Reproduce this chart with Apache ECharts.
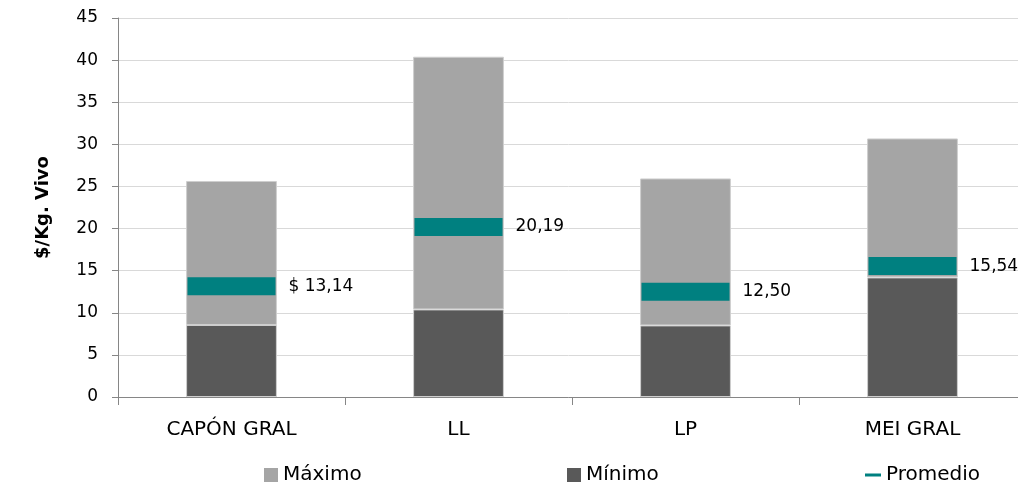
<!DOCTYPE html>
<html>
<head>
<meta charset="utf-8">
<script src="https://cdn.jsdelivr.net/npm/echarts@6/dist/echarts.min.js"></script>
<style>html,body{margin:0;padding:0;background:#fff;}#c{width:1018px;height:486px;}</style>
</head>
<body>
<div id="c"></div>
<script>
const categories = ['CAPÓN GRAL', 'LL', 'LP', 'MEI GRAL'];
const maximo = [25.65, 40.4, 25.95, 30.7];
const minimo = [8.55, 10.4, 8.5, 14.2];
const promedio = [13.14, 20.19, 12.50, 15.54];
const promedioLabels = ['$ 13,14', '20,19', '12,50', '15,54'];
const yTicks = [0, 5, 10, 15, 20, 25, 30, 35, 40, 45];

const FONT = 'DejaVu Sans';
const chart = echarts.init(document.getElementById('c'));
const legendText = { fontFamily: FONT, fontSize: 20, color: '#000' };
const legendItem = { borderWidth: 0 };
chart.setOption({
  animation: false,
  textStyle: { fontFamily: FONT },
  grid: { left: 118, width: 908, top: 18, bottom: 89, outerBoundsMode: 'none', containLabel: false },
  legend: [
    { data: [{ name: 'Máximo', icon: 'rect' }], left: 259, top: 460, itemWidth: 14, itemHeight: 14, itemGap: 4, itemStyle: legendItem, textStyle: legendText },
    { data: [{ name: 'Mínimo', icon: 'rect' }], left: 562, top: 460, itemWidth: 14, itemHeight: 14, itemGap: 4, itemStyle: legendItem, textStyle: legendText },
    { data: [{ name: 'Promedio', icon: 'rect' }], left: 860, top: 460, itemWidth: 16, itemHeight: 3, itemGap: 4, itemStyle: legendItem, textStyle: legendText }
  ],
  xAxis: {
    type: 'category',
    data: categories,
    axisLine: { lineStyle: { color: '#868686', width: 1 } },
    axisTick: { show: true, length: 8, lineStyle: { color: '#868686' } },
    axisLabel: { fontFamily: FONT, fontSize: 20, color: '#000', margin: 23 }
  },
  yAxis: {
    type: 'value',
    min: 0, max: 45, interval: 5,
    name: '$/Kg. Vivo',
    nameLocation: 'middle',
    nameGap: 66,
    nameTextStyle: { fontFamily: FONT, fontSize: 18, fontWeight: 'bold', color: '#000' },
    axisLine: { show: true, lineStyle: { color: '#868686' } },
    axisTick: { show: true, length: 6, lineStyle: { color: '#868686' } },
    axisLabel: { fontFamily: FONT, fontSize: 17, color: '#000', margin: 20,
      formatter: v => yTicks.includes(v) ? String(v) : '' },
    splitLine: { lineStyle: { color: '#d9d9d9', width: 1 } }
  },
  series: [
    {
      name: 'Mínimo', type: 'bar', stack: 'r', barWidth: '40%',
      data: minimo,
      itemStyle: { color: '#595959', borderColor: '#cfcfcf', borderWidth: 1 }
    },
    {
      name: 'Máximo', type: 'bar', stack: 'r', barWidth: '40%',
      data: maximo.map((v, i) => +(v - minimo[i]).toFixed(2)),
      itemStyle: { color: '#a5a5a5', borderColor: '#cfcfcf', borderWidth: 1 }
    },
    {
      name: 'Promedio', type: 'scatter',
      data: promedio,
      symbol: 'rect', symbolSize: [88, 18],
      itemStyle: { color: '#008080', opacity: 1 },
      z: 5,
      label: {
        show: true, position: 'right', distance: 13,
        fontFamily: FONT, fontSize: 17, color: '#000',
        formatter: p => promedioLabels[p.dataIndex]
      }
    }
  ]
});
</script>
</body>
</html>
